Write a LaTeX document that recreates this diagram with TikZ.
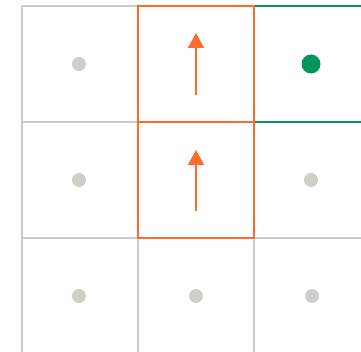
\documentclass[tikz,border=0pt]{standalone}
\usetikzlibrary{arrows.meta}
\definecolor{gridgray}{HTML}{CCCCCC}
\definecolor{dotgray}{HTML}{D1CEC9}
\definecolor{orng}{HTML}{FF6B2C}
\definecolor{grn}{HTML}{00965E}
\begin{document}
\begin{tikzpicture}[x=1pt,y=-1pt,
  gridline/.style={draw=gridgray,line width=2pt},
  hilite/.style={line width=2pt},
  dot/.style={circle,fill=dotgray,inner sep=0pt,minimum size=14pt},
  goal/.style={circle,fill=grn,inner sep=0pt,minimum size=19pt},
  move/.style={draw=orng,line width=2.2pt,-{Triangle[width=16pt,length=15pt]}}]
\useasboundingbox (0,0) rectangle (361,352);
\clip (0,0) rectangle (361,352);
% grid
\foreach \x in {22,138,254} \draw[gridline] (\x,6) -- (\x,360);
\foreach \y in {6,122,238} \draw[gridline] (22,\y) -- (370,\y);
% highlighted cells
\draw[hilite,draw=grn] (254,6) rectangle (372,122);
\draw[hilite,draw=orng] (138,6) rectangle (254,122);
\draw[hilite,draw=orng] (138,122) rectangle (254,238);
% dots
\node[dot] (d11) at (79,64) {};
\node[goal] (g13) at (311,64) {};
\node[dot] (d21) at (79,180) {};
\node[dot] (d23) at (311,180) {};
\node[dot] (d31) at (79,296) {};
\node[dot] (d32) at (196,296) {};
\node[dot] (d33) at (312,296) {};
% arrows
\coordinate (a1s) at (196,95);
\coordinate (a1e) at (196,33);
\coordinate (a2s) at (196,211);
\coordinate (a2e) at (196,150);
\draw[move] (a1s) -- (a1e);
\draw[move] (a2s) -- (a2e);
\end{tikzpicture}
\end{document}
